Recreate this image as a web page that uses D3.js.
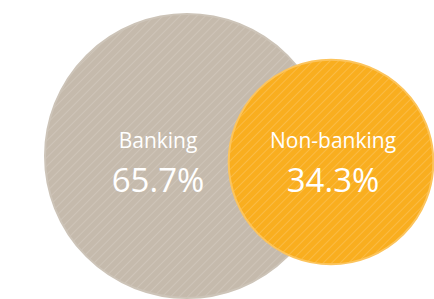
<!DOCTYPE html>
<html>
<head>
<meta charset="utf-8">
<script src="https://cdn.jsdelivr.net/npm/d3@7"></script>
<style>
  html, body { margin: 0; padding: 0; background: #fff; }
  svg { display: block; }
</style>
</head>
<body>
<svg id="chart" width="434" height="299"></svg>
<script>
const categories = ['Banking', 'Non-banking']
const shares = [65.7, 34.3]
const fills = ['#c5baac', '#f9ae1f']
const hatches = ['#d4ccc1', '#fbc55f']
const borders = ['#cdc4b8', '#fcc45c']

const svg = d3.select('#chart')
const defs = svg.append('defs')

// radius from share (area proportional)
const r = d3.scaleSqrt().domain([0, d3.max(shares)]).range([0, 143])
// horizontal placement of the two circles
const x = d3.scalePoint().domain(categories).range([187, 331])
const cy = [156, 162]

categories.forEach(function (c, i) {
  const p = defs.append('pattern')
    .attr('id', 'hatch' + i)
    .attr('patternUnits', 'userSpaceOnUse')
    .attr('width', 6).attr('height', 6)
    .attr('patternTransform', 'rotate(45)')
  p.append('rect').attr('width', 6).attr('height', 6).attr('fill', fills[i])
  p.append('line')
    .attr('x1', 0).attr('y1', 0).attr('x2', 0).attr('y2', 6)
    .attr('stroke', hatches[i]).attr('stroke-width', 1.2)
})

const g = svg.append('g')
const nodes = categories.map(function (c, i) {
  return { name: c, value: shares[i], i: i }
})

g.selectAll('circle')
  .data(nodes)
  .enter()
  .append('circle')
  .attr('cx', d => x(d.name))
  .attr('cy', d => cy[d.i])
  .attr('r', d => r(d.value) - 1)
  .attr('fill', d => 'url(#hatch' + d.i + ')')
  .attr('stroke', d => borders[d.i])
  .attr('stroke-width', 2)

const labelX = [158, 333]

const lab = g.selectAll('g.lab')
  .data(nodes)
  .enter()
  .append('g')
  .attr('class', 'lab')
  .attr('transform', d => 'translate(' + labelX[d.i] + ',0)')

lab.append('text')
  .attr('y', 148)
  .attr('text-anchor', 'middle')
  .attr('fill', '#fff')
  .style('font-family', 'Open Sans, sans-serif')
  .style('font-size', '21px')
  .text(d => d.name)

lab.append('text')
  .attr('y', 192)
  .attr('text-anchor', 'middle')
  .attr('fill', '#fff')
  .style('font-family', 'Open Sans, sans-serif')
  .style('font-size', '33px')
  .text(d => d3.format('.1f')(d.value) + '%')
</script>
</body>
</html>
